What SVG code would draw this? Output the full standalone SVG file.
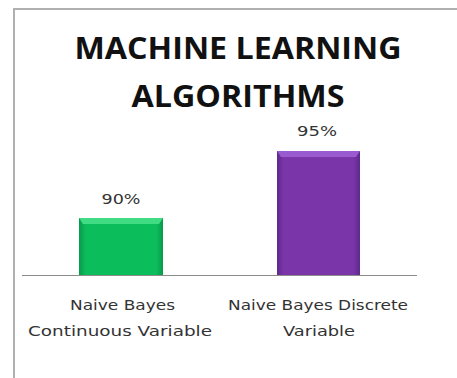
<svg xmlns="http://www.w3.org/2000/svg" width="457" height="378" viewBox="0 0 457 378">
<style>
.t{font-family:"Open Sans","Liberation Sans",sans-serif;font-weight:bold;font-size:30.5px;fill:#111;text-anchor:middle}
.l{font-family:"DejaVu Sans","Liberation Sans",sans-serif;font-size:13.5px;fill:#333;text-anchor:middle}
</style>
<defs>
<linearGradient id="g" x1="0" y1="0" x2="1" y2="0">
<stop offset="0" stop-color="#079a4a"/><stop offset="0.08" stop-color="#0cbd5c"/><stop offset="0.92" stop-color="#0cbd5c"/><stop offset="1" stop-color="#079a4a"/>
</linearGradient>
<linearGradient id="p" x1="0" y1="0" x2="1" y2="0">
<stop offset="0" stop-color="#5e2a8c"/><stop offset="0.08" stop-color="#7a35a8"/><stop offset="0.92" stop-color="#7a35a8"/><stop offset="1" stop-color="#5e2a8c"/>
</linearGradient>
</defs>
<rect width="457" height="378" fill="#fff"/>
<path d="M14 378V9H457" fill="none" stroke="#b0b0b0" stroke-width="2"/>
<text class="t" x="238" y="59" textLength="327" lengthAdjust="spacingAndGlyphs">MACHINE LEARNING</text>
<text class="t" x="238" y="107" textLength="213" lengthAdjust="spacingAndGlyphs">ALGORITHMS</text>
<g id="bar1">
<rect x="79" y="218" width="84" height="57" fill="url(#g)"/>
<polygon points="79,218 163,218 159,224 83,224" fill="#3fdc84"/>
<text class="l" x="121" y="204" textLength="39" lengthAdjust="spacingAndGlyphs">90%</text>
</g>
<g id="bar2">
<rect x="277" y="151" width="83" height="124" fill="url(#p)"/>
<polygon points="277,151 360,151 356,157 281,157" fill="#9a5ad0"/>
<text class="l" x="317" y="136" textLength="40" lengthAdjust="spacingAndGlyphs">95%</text>
</g>
<line x1="22" y1="275.5" x2="417" y2="275.5" stroke="#8c8c8c" stroke-width="1.2"/>
<text class="l" x="122.5" y="310" textLength="105" lengthAdjust="spacingAndGlyphs">Naive Bayes</text>
<text class="l" x="120" y="336" textLength="184" lengthAdjust="spacingAndGlyphs">Continuous Variable</text>
<text class="l" x="318" y="310" textLength="180" lengthAdjust="spacingAndGlyphs">Naive Bayes Discrete</text>
<text class="l" x="319" y="336" textLength="72" lengthAdjust="spacingAndGlyphs">Variable</text>
</svg>
